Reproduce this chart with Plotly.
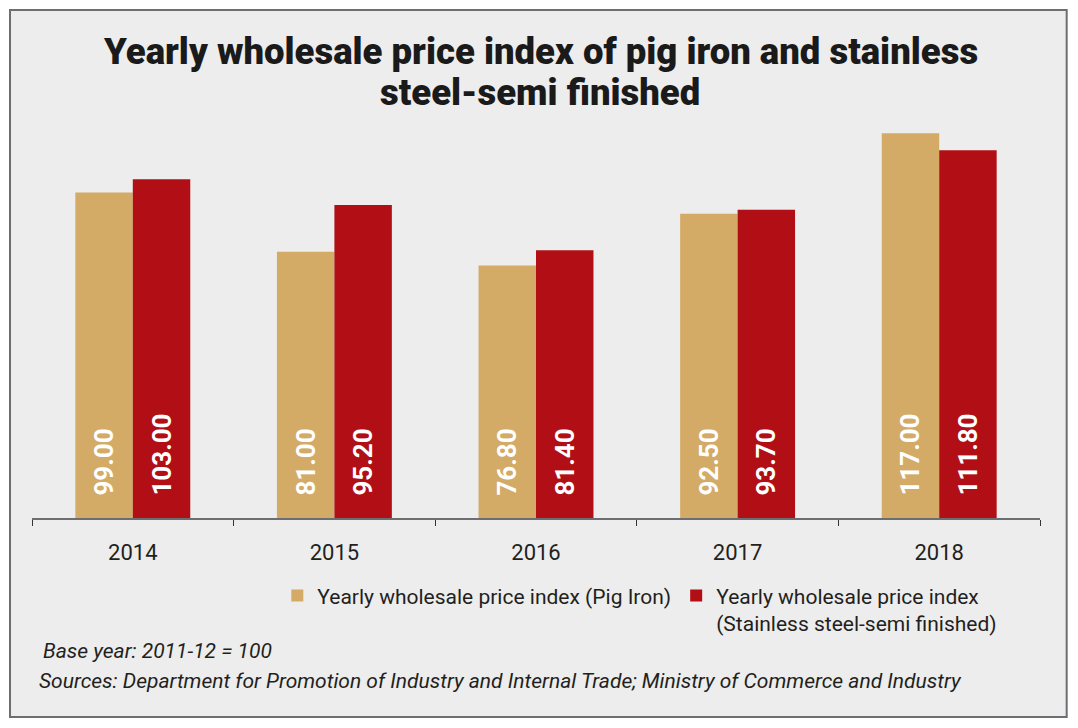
import plotly.graph_objects as go

# ---- data ----
years = ["2014", "2015", "2016", "2017", "2018"]
pig_iron = [99.00, 81.00, 76.80, 92.50, 117.00]
stainless = [103.00, 95.20, 81.40, 93.70, 111.80]

series_names = [
    "Yearly wholesale price index (Pig Iron)",
    "Yearly wholesale price index<br>(Stainless steel-semi finished)",
]
title_lines = [
    "Yearly wholesale price index of pig iron and stainless",
    "steel-semi finished",
]
note_base = "Base year: 2011-12 = 100"
note_source = "Sources: Department for Promotion of Industry and Internal Trade; Ministry of Commerce and Industry"

# ---- style ----
OFF = 8  # page body margin
W, H = 1062, 712
PLOT_L, PLOT_R, PLOT_T, PLOT_B = 31.5, 1040.3, 130, 517.7  # in reference pixels
ML = PLOT_L - OFF
MR = W - (PLOT_R - OFF)
MT = PLOT_T - OFF
MB = H - (PLOT_B - OFF)
TAN = "#D3AB67"
RED = "#B10F15"
BG = "#EDEDED"
FONT = "Roboto, sans-serif"
TXT = "#231F20"

PW = W - ML - MR
PH = H - MT - MB


def px_x(px):
    return (px - OFF - ML) / PW


def px_y(py):
    return (H - MB - (py - OFF)) / PH


pad = "\u00a0" * 3

fig = go.Figure()
for name, vals, col in [(series_names[0], pig_iron, TAN), (series_names[1], stainless, RED)]:
    fig.add_trace(go.Bar(
        x=years, y=vals, name=name,
        marker=dict(color=col, line=dict(width=0)),
        texttemplate=pad + "%{y:.2f}",
        textposition="inside",
        insidetextanchor="start",
        textangle=-90,
        constraintext="none",
        textfont=dict(family=FONT, size=26, color="white", weight="bold"),
        hoverinfo="skip",
    ))

fig.update_layout(
    width=W, height=H,
    margin=dict(l=ML, r=MR, t=MT, b=MB, autoexpand=False),
    paper_bgcolor="white",
    plot_bgcolor="rgba(0,0,0,0)",
    barmode="group",
    bargap=0.43,
    bargroupgap=0,
    font=dict(family=FONT, color=TXT),
    showlegend=True,
    legend=dict(
        orientation="h",
        x=px_x(277), xanchor="left",
        y=px_y(575), yanchor="top",
        font=dict(family=FONT, size=21, color=TXT),
        bgcolor="rgba(0,0,0,0)",
        valign="top",
        traceorder="normal",
    ),
    xaxis=dict(
        type="category",
        showline=True, linecolor="#6D6E71", linewidth=2,
        ticks="outside", tickson="boundaries", ticklen=6, tickcolor="#333333", tickwidth=1,
        tickfont=dict(family=FONT, size=22, color=TXT),
        ticklabelstandoff=14,
        showgrid=False, zeroline=False, fixedrange=True,
    ),
    yaxis=dict(
        range=[0, PH / 3.286],
        visible=False, showgrid=False, zeroline=False, fixedrange=True,
    ),
    shapes=[dict(
        type="rect", xref="paper", yref="paper", layer="below",
        x0=px_x(9.5), x1=px_x(1067), y0=px_y(716.5), y1=px_y(10),
        fillcolor=BG, line=dict(color="#6D6E71", width=2),
    )],
)

# title (two lines with tight leading)
for txt, base in [(title_lines[0], 64), (title_lines[1], 105)]:
    fig.add_annotation(
        text=txt, xref="paper", yref="paper",
        x=px_x(540), y=px_y(base - 12), xanchor="center", yanchor="middle",
        showarrow=False,
        font=dict(family=FONT, size=36.5, color="#1A1A1A", weight=900),
    )

# footnotes
fig.add_annotation(
    text="<i>" + note_base + "</i>", xref="paper", yref="paper",
    x=px_x(41), y=px_y(650.5), xanchor="left", yanchor="middle",
    showarrow=False, font=dict(family=FONT, size=21, color=TXT),
)
fig.add_annotation(
    text="<i>" + note_source + "</i>", xref="paper", yref="paper",
    x=px_x(37), y=px_y(680.5), xanchor="left", yanchor="middle",
    showarrow=False, font=dict(family=FONT, size=21, color=TXT),
)

fig.write_html("out.html")
